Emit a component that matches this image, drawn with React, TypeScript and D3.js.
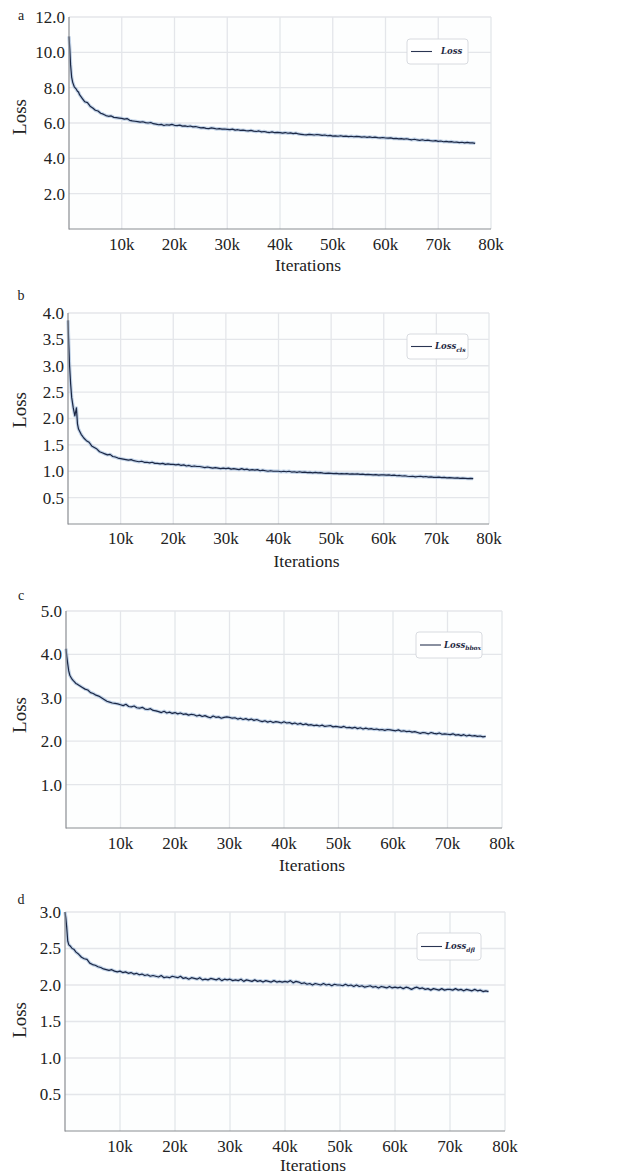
import React from "react";
import * as d3 from "d3";

// ---- shared iteration grid ----
const ITER_EARLY = [0, 150, 300, 500, 700, 1000, 1300, 1600, 1800, 2000, 2500];
const ITER = [...ITER_EARLY, ...d3.range(3000, 77001, 500)];

const X_TICKS = [10000, 20000, 30000, 40000, 50000, 60000, 70000, 80000];
const X_TICK_LABELS = ["10k", "20k", "30k", "40k", "50k", "60k", "70k", "80k"];

// ---- series values ----
const LOSS_TOTAL = [
  10.9, 10.2, 9.3, 8.6, 8.3, 8.05, 7.95, 7.8, 7.75, 7.6, 7.4,
  7.2, 7.15, 6.95, 6.85, 6.72, 6.68, 6.55, 6.5, 6.42, 6.38, 6.4, 6.32, 6.3, 6.28,
  6.26, 6.22, 6.25, 6.15, 6.12, 6.1, 6.08, 6.05, 6.07, 6.02, 6.0, 6.03, 5.96, 5.94, 5.9, 5.92, 5.86, 5.9, 5.88, 5.92,
  5.87, 5.85, 5.88, 5.82, 5.84, 5.8, 5.83, 5.78, 5.8, 5.76, 5.72, 5.74, 5.7, 5.68, 5.72, 5.7, 5.66, 5.68, 5.65, 5.66,
  5.64, 5.62, 5.65, 5.6, 5.62, 5.58, 5.6, 5.57, 5.55, 5.58, 5.54, 5.52, 5.55, 5.5, 5.52, 5.48, 5.46, 5.5, 5.45, 5.47,
  5.45, 5.43, 5.46, 5.42, 5.44, 5.4, 5.43, 5.38, 5.36, 5.34, 5.33, 5.36, 5.34, 5.32, 5.35, 5.33, 5.3, 5.32, 5.28, 5.3,
  5.26, 5.27, 5.25, 5.28, 5.24, 5.26, 5.23, 5.25, 5.22, 5.24, 5.23, 5.2, 5.22, 5.19, 5.21, 5.18, 5.2, 5.17, 5.16, 5.18,
  5.15, 5.14, 5.16, 5.12, 5.13, 5.1, 5.12, 5.09, 5.11, 5.07, 5.05, 5.08, 5.04, 5.02, 5.05, 5.01, 5.03, 5.0, 4.98, 5.0,
  4.96, 4.98, 4.94, 4.96, 4.93, 4.95, 4.91, 4.92, 4.89, 4.91, 4.88, 4.9, 4.87, 4.88, 4.85,
];

const LOSS_CLS = [
  3.86, 3.4, 3.0, 2.66, 2.4, 2.2, 2.05, 2.2, 1.9, 1.8, 1.7,
  1.63, 1.58, 1.55, 1.48, 1.45, 1.42, 1.37, 1.35, 1.33, 1.31, 1.32, 1.28, 1.27, 1.25,
  1.24, 1.23, 1.22, 1.21, 1.22, 1.2, 1.19, 1.18, 1.19, 1.17, 1.17, 1.16, 1.17, 1.15, 1.15, 1.14, 1.15, 1.13, 1.14, 1.13,
  1.13, 1.12, 1.13, 1.11, 1.12, 1.1, 1.11, 1.09, 1.1, 1.09, 1.09, 1.08, 1.07, 1.08, 1.07, 1.06, 1.07, 1.06, 1.05, 1.06,
  1.05, 1.06, 1.04, 1.05, 1.04, 1.03, 1.05, 1.03, 1.04, 1.02, 1.03, 1.02, 1.03, 1.01, 1.02, 1.01, 1.0, 1.01, 1.0, 1.0,
  1.0, 0.99, 1.0, 0.99, 1.0, 0.985, 0.99, 0.98, 0.99, 0.98, 0.985, 0.975, 0.98, 0.97, 0.98, 0.97, 0.975, 0.965, 0.96, 0.965,
  0.96, 0.955, 0.96, 0.95, 0.955, 0.95, 0.955, 0.945, 0.95, 0.945, 0.95, 0.94, 0.945, 0.935, 0.94, 0.935, 0.93, 0.935, 0.925, 0.93,
  0.93, 0.925, 0.93, 0.92, 0.925, 0.915, 0.92, 0.91, 0.915, 0.905, 0.9, 0.905, 0.895, 0.9, 0.905, 0.895, 0.9, 0.89, 0.895, 0.885,
  0.885, 0.89, 0.88, 0.885, 0.875, 0.88, 0.875, 0.87, 0.875, 0.865, 0.87, 0.865, 0.86, 0.865, 0.86,
];

const LOSS_BBOX = [
  4.13, 3.95, 3.8, 3.62, 3.52, 3.45, 3.4, 3.36, 3.33, 3.32, 3.28,
  3.24, 3.2, 3.18, 3.12, 3.1, 3.06, 3.04, 3.0, 2.96, 2.92, 2.9, 2.88, 2.87, 2.86,
  2.84, 2.82, 2.85, 2.8, 2.79, 2.81, 2.77, 2.76, 2.78, 2.74, 2.73, 2.75, 2.71, 2.7, 2.68, 2.66, 2.69, 2.65, 2.67, 2.64,
  2.66, 2.63, 2.65, 2.62, 2.63, 2.6, 2.62, 2.61, 2.58, 2.6, 2.57, 2.59, 2.56, 2.54, 2.58, 2.55, 2.56, 2.53, 2.55, 2.56,
  2.55, 2.53, 2.54, 2.51, 2.53, 2.5, 2.52, 2.49, 2.51, 2.48, 2.5, 2.47, 2.45, 2.47, 2.44, 2.46, 2.43, 2.45, 2.44, 2.42,
  2.45, 2.42, 2.43, 2.4, 2.42, 2.39, 2.41, 2.38, 2.4, 2.37, 2.38, 2.36, 2.37, 2.35, 2.37, 2.34, 2.35, 2.36, 2.33, 2.34,
  2.33, 2.32, 2.34, 2.31, 2.32, 2.3, 2.32, 2.29, 2.31, 2.28, 2.3, 2.28, 2.29, 2.27, 2.28, 2.26, 2.27, 2.25, 2.27, 2.26,
  2.25, 2.24, 2.26, 2.23, 2.24, 2.22, 2.23, 2.21, 2.22, 2.2, 2.18, 2.2, 2.19, 2.17, 2.2, 2.18, 2.17, 2.19, 2.16, 2.17,
  2.16, 2.15, 2.17, 2.14, 2.15, 2.13, 2.15, 2.12, 2.14, 2.12, 2.13, 2.11, 2.12, 2.1, 2.11,
];

const LOSS_DFL = [
  3.0, 2.92, 2.8, 2.6, 2.55, 2.53, 2.5, 2.49, 2.47, 2.45, 2.42,
  2.38, 2.36, 2.35, 2.3, 2.28, 2.27, 2.25, 2.24, 2.22, 2.21, 2.2, 2.21, 2.19, 2.18,
  2.19, 2.17, 2.18, 2.16, 2.17, 2.15, 2.16, 2.14, 2.15, 2.13, 2.14, 2.12, 2.13, 2.12, 2.11, 2.13, 2.1, 2.11, 2.1, 2.12,
  2.11, 2.1, 2.12, 2.09, 2.1, 2.08, 2.1, 2.09, 2.08, 2.1, 2.07, 2.08, 2.07, 2.09, 2.08, 2.07, 2.09, 2.06, 2.08, 2.07,
  2.08, 2.06, 2.07, 2.06, 2.08, 2.05, 2.07, 2.06, 2.05, 2.07, 2.05, 2.06, 2.04, 2.06, 2.05, 2.04, 2.06, 2.04, 2.05, 2.04,
  2.05, 2.04, 2.06, 2.03, 2.05, 2.04, 2.02, 2.03, 2.01, 2.02, 2.0, 2.02, 2.01, 2.0, 2.02, 2.0, 2.01, 1.99, 2.01, 2.0,
  2.0, 1.99, 2.01, 1.99, 2.0, 1.98, 2.0, 1.98, 1.99, 1.97, 1.98, 1.99, 1.97, 1.98, 1.96, 1.98, 1.97, 1.96, 1.98, 1.96,
  1.97, 1.96, 1.97, 1.95, 1.97, 1.96, 1.94, 1.96, 1.97, 1.95, 1.96, 1.94, 1.95, 1.93, 1.95, 1.94, 1.93, 1.95, 1.93, 1.94,
  1.94, 1.93, 1.95, 1.93, 1.94, 1.92, 1.94, 1.93, 1.92, 1.94, 1.92, 1.93, 1.91, 1.92, 1.91,
];

const Y_TICKS_A = [2, 4, 6, 8, 10, 12];
const Y_TICKS_B = [0.5, 1.0, 1.5, 2.0, 2.5, 3.0, 3.5, 4.0];
const Y_TICKS_C = [1, 2, 3, 4, 5];
const Y_TICKS_D = [0.5, 1.0, 1.5, 2.0, 2.5, 3.0];

const PANEL_LETTERS = ["a", "b", "c", "d"];
const LEGEND_SUBS = ["", "cls", "bbox", "dfl"];

type Panel = {
  letter: string;
  values: number[];
  yMax: number;
  yTicks: number[];
  sub: string;
  left: number;
  right: number;
  top: number;
  bottom: number;
  letterY: number;
  tickY: number;
  iterY: number;
  lossY: number;
  legend: [number, number, number, number];
};

const PANELS: Panel[] = [
  { letter: PANEL_LETTERS[0], values: LOSS_TOTAL, yMax: 12, yTicks: Y_TICKS_A, sub: LEGEND_SUBS[0],
    left: 69, right: 491, top: 17, bottom: 229, letterY: 20, tickY: 250, iterY: 271, lossY: 117, legend: [407, 39, 61, 25] },
  { letter: PANEL_LETTERS[1], values: LOSS_CLS, yMax: 4, yTicks: Y_TICKS_B, sub: LEGEND_SUBS[1],
    left: 68, right: 489, top: 313, bottom: 524, letterY: 300, tickY: 544, iterY: 567, lossY: 410, legend: [407, 334, 61, 25] },
  { letter: PANEL_LETTERS[2], values: LOSS_BBOX, yMax: 5, yTicks: Y_TICKS_C, sub: LEGEND_SUBS[2],
    left: 66, right: 502, top: 611, bottom: 828, letterY: 600, tickY: 849, iterY: 871, lossY: 715, legend: [416, 632, 66, 26] },
  { letter: PANEL_LETTERS[3], values: LOSS_DFL, yMax: 3, yTicks: Y_TICKS_D, sub: LEGEND_SUBS[3],
    left: 65, right: 505, top: 912, bottom: 1131, letterY: 904, tickY: 1152, iterY: 1171, lossY: 1020, legend: [417, 933, 64, 27] },
];

const SERIF = "'Liberation Serif', 'Times New Roman', serif";
const LEG_FONT = "'DejaVu Serif', 'Liberation Serif', serif";

function PanelView({ p }: { p: Panel }) {
  const x = d3.scaleLinear().domain([0, 80000]).range([p.left, p.right]);
  const y = d3.scaleLinear().domain([0, p.yMax]).range([p.bottom, p.top]);
  const n = Math.min(ITER.length, p.values.length);
  const pts: [number, number][] = d3.range(n).map((i) => [ITER[i], p.values[i]]);
  const line = d3
    .line<[number, number]>()
    .x((d) => x(d[0]))
    .y((d) => y(d[1]));
  const path = line(pts) || "";
  const fmt = d3.format(".1f");
  const [lx, ly, lw, lh] = p.legend;
  return (
    <g>
      <rect x={p.left} y={p.top} width={p.right - p.left} height={p.bottom - p.top} fill="#fdfefe" />
      {p.yTicks.map((t) => (
        <line key={"gy" + t} x1={p.left} x2={p.right} y1={y(t)} y2={y(t)} stroke="#e4e6ea" strokeWidth={1.3} />
      ))}
      {X_TICKS.map((t) => (
        <line key={"gx" + t} x1={x(t)} x2={x(t)} y1={p.top} y2={p.bottom} stroke="#e4e6ea" strokeWidth={1.3} />
      ))}
      <path d={path} fill="none" stroke="#a8c0de" strokeWidth={3.4} strokeOpacity={0.7} strokeLinejoin="round" />
      <path d={path} fill="none" stroke="#1b2744" strokeWidth={1.2} strokeLinejoin="round" />
      <line x1={p.left} x2={p.left} y1={p.top} y2={p.bottom + 0.5} stroke="#8a8d92" strokeWidth={1.2} />
      <line x1={p.left} x2={p.right} y1={p.bottom} y2={p.bottom} stroke="#8a8d92" strokeWidth={1.2} />
      {p.yTicks.map((t) => (
        <text key={"ty" + t} x={p.left - 4} y={y(t)} dy="0.35em" textAnchor="end" fontFamily={SERIF} fontSize={17} fill="#222">
          {fmt(t)}
        </text>
      ))}
      {X_TICKS.map((t, i) => (
        <text key={"tx" + t} x={x(t)} y={p.tickY} textAnchor="middle" fontFamily={SERIF} fontSize={17} fill="#222">
          {X_TICK_LABELS[i]}
        </text>
      ))}
      <text x={(p.left + p.right) / 2 + 28} y={p.iterY} textAnchor="middle" fontFamily={SERIF} fontSize={17.5} fill="#222">
        Iterations
      </text>
      <text
        transform={`translate(${26}, ${p.lossY}) rotate(-90)`}
        textAnchor="middle"
        fontFamily={SERIF}
        fontSize={19}
        fill="#222"
      >
        Loss
      </text>
      <text x={21} y={p.letterY} textAnchor="middle" fontFamily={SERIF} fontSize={14} fill="#222">
        {p.letter}
      </text>
      <rect x={lx} y={ly} width={lw} height={lh} rx={3} fill="#ffffff" stroke="#d4d7dc" strokeWidth={0.9} />
      <line x1={lx + 4} x2={lx + 25} y1={ly + lh / 2} y2={ly + lh / 2} stroke="#2a3552" strokeWidth={1.1} />
      <text x={lx + (p.sub ? 28 : 34)} y={ly + lh / 2} dy="0.35em" fontFamily={LEG_FONT} fontSize={8.5} fontStyle="italic" fontWeight="bold" fill="#1f2a44">
        Loss
        {p.sub ? (
          <tspan fontSize={6} dy="2.5">
            {p.sub}
          </tspan>
        ) : null}
      </text>
    </g>
  );
}

export default function App() {
  return (
    <svg
      width={633}
      height={1176}
      viewBox="0 0 633 1176"
      style={{ position: "absolute", left: 0, top: 0, background: "#ffffff" }}
    >
      <rect x={0} y={0} width={633} height={1176} fill="#ffffff" />
      {PANELS.map((p) => (
        <PanelView key={p.letter} p={p} />
      ))}
    </svg>
  );
}
